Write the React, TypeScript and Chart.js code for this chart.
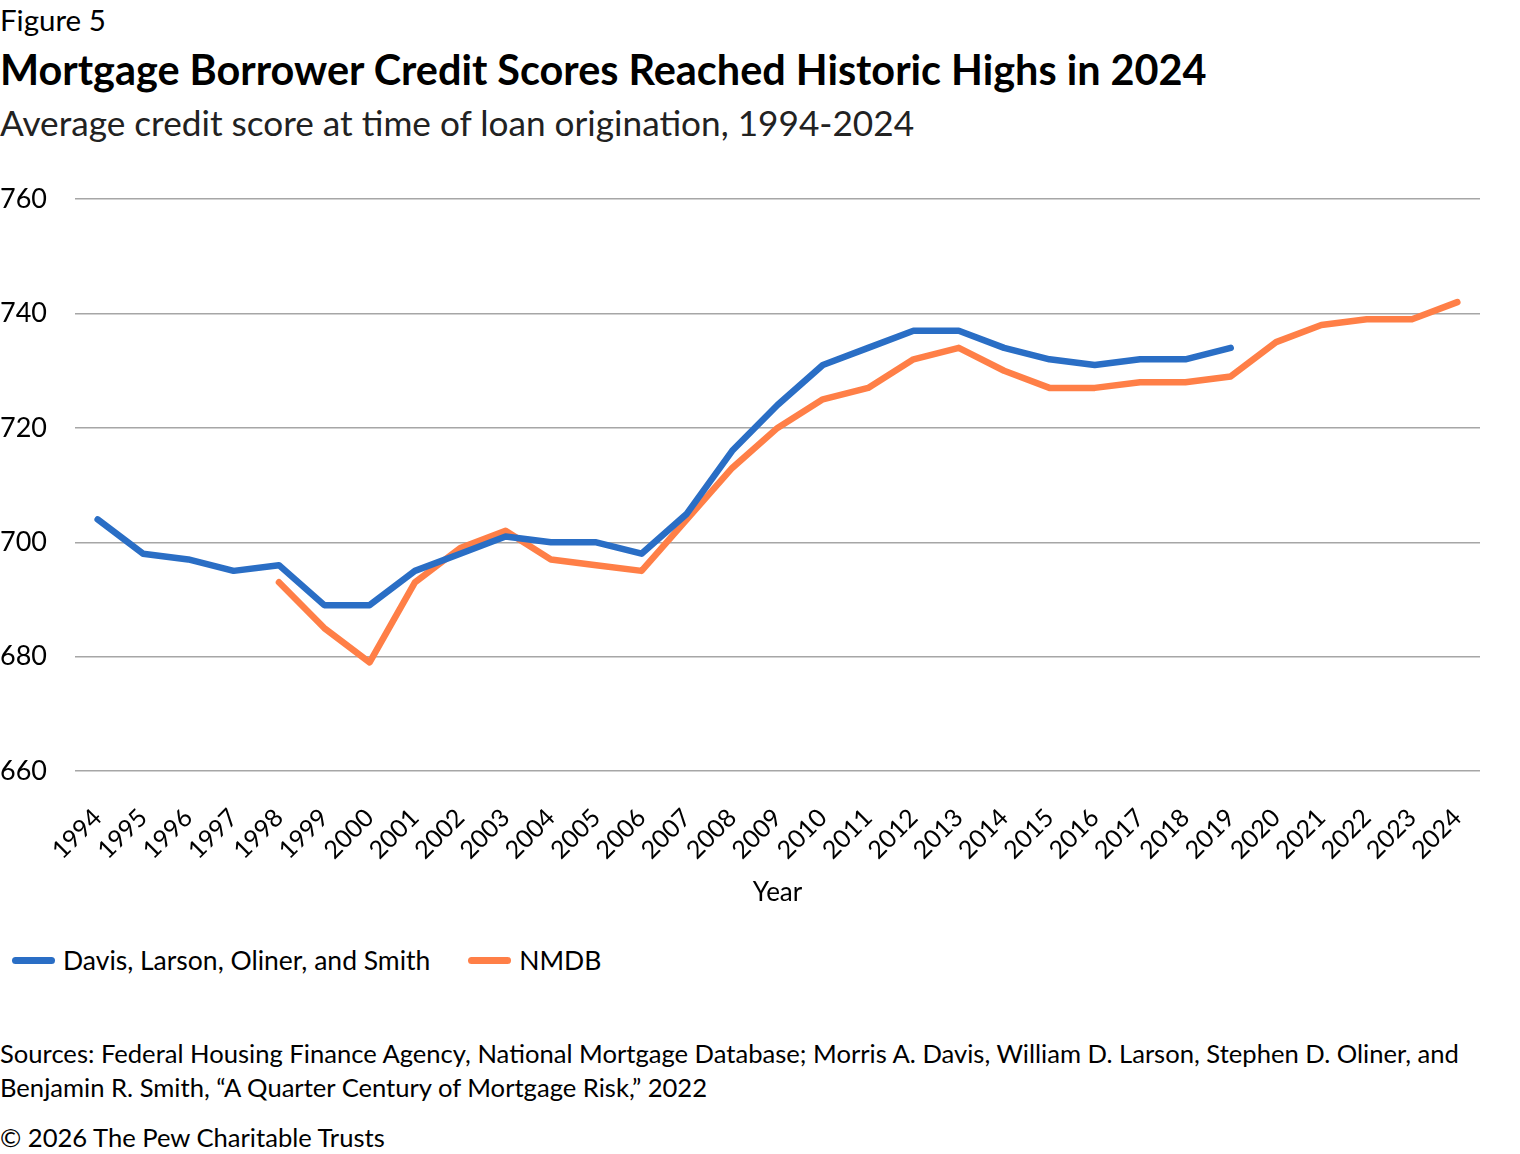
import { useEffect, useRef } from "react";
import { Chart, registerables } from "chart.js";

Chart.register(...registerables);

const FONT = "Lato, 'Noto Sans', sans-serif";

const years = [
  "1994", "1995", "1996", "1997", "1998", "1999", "2000", "2001", "2002", "2003",
  "2004", "2005", "2006", "2007", "2008", "2009", "2010", "2011", "2012", "2013",
  "2014", "2015", "2016", "2017", "2018", "2019", "2020", "2021", "2022", "2023", "2024",
];

// Davis, Larson, Oliner, and Smith (ends 2019)
const davisScores = [
  704, 698, 697, 695, 696, 689, 689, 695, 698, 701,
  700, 700, 698, 705, 716, 724, 731, 734, 737, 737,
  734, 732, 731, 732, 732, 734, null, null, null, null, null,
];

// National Mortgage Database (starts 1998)
const nmdbScores = [
  null, null, null, null, 693, 685, 679, 693, 699, 702,
  697, 696, 695, 704, 713, 720, 725, 727, 732, 734,
  730, 727, 727, 728, 728, 729, 735, 738, 739, 739, 742,
];

const yTicks = [660, 680, 700, 720, 740, 760];

const BLUE = "#2a6ec5";
const ORANGE = "#ff7f47";

function CreditScoreChart() {
  const canvasRef = useRef<HTMLCanvasElement | null>(null);

  useEffect(() => {
    if (!canvasRef.current) return;
    const chart = new Chart(canvasRef.current, {
      type: "line",
      data: {
        labels: years,
        datasets: [
          {
            label: "Davis, Larson, Oliner, and Smith",
            data: davisScores,
            borderColor: BLUE,
            backgroundColor: BLUE,
          },
          {
            label: "NMDB",
            data: nmdbScores,
            borderColor: ORANGE,
            backgroundColor: ORANGE,
          },
        ],
      },
      options: {
        animation: false,
        responsive: true,
        maintainAspectRatio: false,
        layout: { padding: { top: 0, right: 40, left: 0, bottom: 0 } },
        elements: {
          line: {
            borderWidth: 6.5,
            tension: 0,
            borderCapStyle: "round",
            borderJoinStyle: "round",
          },
          point: { radius: 0, hoverRadius: 0 },
        },
        plugins: {
          legend: { display: false },
          tooltip: { enabled: false },
        },
        scales: {
          x: {
            offset: true,
            grid: { display: false },
            border: { display: false },
            afterFit: (scale) => {
              scale.height = 137;
            },
            ticks: {
              maxRotation: 45,
              minRotation: 45,
              autoSkip: false,
              color: "#000",
              padding: 24,
              font: { family: FONT, size: 25 },
            },
            title: {
              display: true,
              text: "Year",
              color: "#000",
              padding: { top: 0, bottom: 0 },
              font: { family: FONT, size: 26, lineHeight: 1.2 },
            },
          },
          y: {
            min: 660,
            max: 760,
            afterBuildTicks: (scale) => {
              scale.ticks = yTicks.map((v) => ({ value: v }));
            },
            afterFit: (scale) => {
              scale.width = 75;
            },
            grid: {
              color: "#a6a6a6",
              lineWidth: 1.5,
              drawTicks: false,
            },
            border: { display: false },
            ticks: {
              color: "#000",
              crossAlign: "far",
              padding: 0,
              font: { family: FONT, size: 27 },
            },
          },
        },
      },
    });
    return () => chart.destroy();
  }, []);

  return (
    <div style={{ position: "absolute", left: 0, top: 183, width: 1520, height: 725 }}>
      <canvas ref={canvasRef} role="img" aria-label="Average credit score line chart" />
    </div>
  );
}

function LegendItem({ color, label }: { color: string; label: string }) {
  return (
    <span style={{ display: "inline-flex", alignItems: "center", marginRight: 38 }}>
      <span
        style={{
          display: "inline-block",
          width: 43,
          height: 7,
          borderRadius: 4,
          background: color,
          marginRight: 8,
        }}
      />
      <span>{label}</span>
    </span>
  );
}

export default function App() {
  useEffect(() => {
    document.body.style.margin = "0";
  }, []);

  return (
    <div
      style={{
        position: "relative",
        width: 1520,
        height: 1154,
        fontFamily: FONT,
        color: "#000",
        background: "#fff",
        overflow: "hidden",
      }}
    >
      <div style={{ position: "absolute", left: 0, top: 3, fontSize: 29.5, lineHeight: "34px" }}>
        Figure 5
      </div>
      <div
        style={{
          position: "absolute",
          left: 0,
          top: 45,
          fontSize: 41.4,
          fontWeight: 700,
          lineHeight: "48px",
          whiteSpace: "nowrap",
        }}
      >
        Mortgage Borrower Credit Scores Reached Historic Highs in 2024
      </div>
      <div
        style={{
          position: "absolute",
          left: 0,
          top: 101,
          fontSize: 35.2,
          lineHeight: "42px",
          color: "#222",
          whiteSpace: "nowrap",
        }}
      >
        Average credit score at time of loan origination, 1994-2024
      </div>

      <CreditScoreChart />

      <div
        style={{
          position: "absolute",
          left: 12,
          top: 943,
          fontSize: 26.5,
          lineHeight: "34px",
          display: "flex",
        }}
      >
        <LegendItem color={BLUE} label="Davis, Larson, Oliner, and Smith" />
        <LegendItem color={ORANGE} label="NMDB" />
      </div>

      <div
        style={{
          position: "absolute",
          left: 0,
          top: 1036,
          width: 1510,
          fontSize: 25.6,
          lineHeight: "34px",
          whiteSpace: "nowrap",
        }}
      >
        Sources: Federal Housing Finance Agency, National Mortgage Database; Morris A. Davis, William D. Larson, Stephen D. Oliner, and
        <br />
        Benjamin R. Smith, “A Quarter Century of Mortgage Risk,” 2022
      </div>
      <div style={{ position: "absolute", left: 0, top: 1121, fontSize: 25.6, lineHeight: "32px" }}>
        © 2026 The Pew Charitable Trusts
      </div>
    </div>
  );
}
